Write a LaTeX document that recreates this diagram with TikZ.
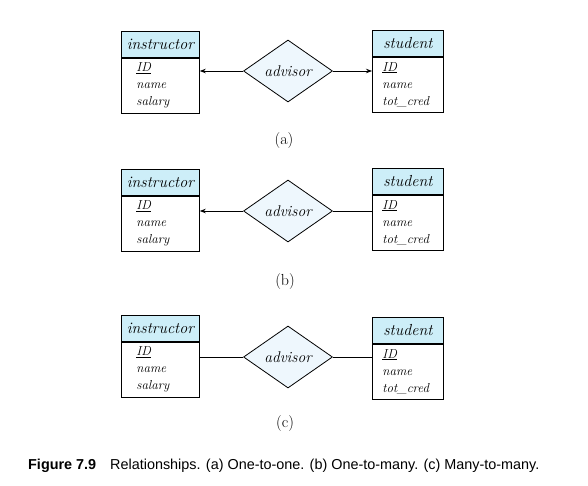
\documentclass[tikz,border=0pt]{standalone}
\usepackage{fontspec}
\newfontfamily\capfont{Liberation Sans}
\usetikzlibrary{shapes.geometric,arrows.meta}
\definecolor{headblue}{HTML}{CDEEF8}
\definecolor{relblue}{HTML}{EEF7FD}
\tikzset{
  enthead/.style={draw, fill=headblue, line width=0.8pt, minimum height=26pt, inner sep=0pt, anchor=north west, font=\fontsize{16}{18}\selectfont\itshape},
  entbody/.style={draw, line width=0.8pt, minimum height=55pt, inner ysep=0pt, anchor=north west, align=left, font=\fontsize{13}{17}\selectfont\itshape},
  insbody/.style={entbody, inner xsep=15pt, text width=48pt},
  stubody/.style={entbody, inner xsep=10pt, text width=51pt},
  rel/.style={diamond, draw, fill=relblue, line width=0.8pt, inner sep=0pt, minimum width=89pt, minimum height=62pt, font=\fontsize{15.5}{18}\selectfont\itshape},
  link/.style={line width=0.8pt},
  tip/.style={link, -{Stealth[length=6pt,width=4.5pt]}},
  sub/.style={font=\fontsize{16}{18}\selectfont}
}
\begin{document}
\begin{tikzpicture}[x=1pt,y=-1pt]
\useasboundingbox (0,0) rectangle (588,485);
% (a) one-to-one
\node[enthead, minimum width=78pt] (ins-a) at (121,31) {instructor};
\node[insbody] (ins-a-body) at (ins-a.south west) {\underline{ID}\\name\\salary};
\node[enthead, minimum width=71pt] (stu-a) at (372,30) {student};
\node[stubody] (stu-a-body) at (stu-a.south west) {\underline{ID}\\name\\tot\_cred};
\node[rel] (adv-a) at (288,71) {advisor};
\draw[tip] (adv-a.west) -- (ins-a-body.east |- adv-a.west);
\draw[tip] (adv-a.east) -- (stu-a-body.west |- adv-a.east);
\node[sub] (lbl-a) at (284,141) {(a)};
% (b) one-to-many
\node[enthead, minimum width=78pt] (ins-b) at (121,169) {instructor};
\node[insbody] (ins-b-body) at (ins-b.south west) {\underline{ID}\\name\\salary};
\node[enthead, minimum width=71pt] (stu-b) at (372,168) {student};
\node[stubody] (stu-b-body) at (stu-b.south west) {\underline{ID}\\name\\tot\_cred};
\node[rel] (adv-b) at (288,211) {advisor};
\draw[tip] (adv-b.west) -- (ins-b-body.east |- adv-b.west);
\draw[link] (adv-b.east) -- (stu-b-body.west |- adv-b.east);
\node[sub] (lbl-b) at (285,282) {(b)};
% (c) many-to-many
\node[enthead, minimum width=78pt] (ins-c) at (121,315) {instructor};
\node[insbody] (ins-c-body) at (ins-c.south west) {\underline{ID}\\name\\salary};
\node[enthead, minimum width=71pt] (stu-c) at (372,317) {student};
\node[stubody] (stu-c-body) at (stu-c.south west) {\underline{ID}\\name\\tot\_cred};
\node[rel] (adv-c) at (288,357) {advisor};
\draw[link] (adv-c.west) -- (ins-c-body.east |- adv-c.west);
\draw[link] (adv-c.east) -- (stu-c-body.west |- adv-c.east);
\node[sub] (lbl-c) at (285,423) {(c)};
% caption
\node[anchor=west, inner sep=0pt, font=\capfont\fontsize{14.4}{17}\selectfont] (caption) at (28,466)
  {\textbf{Figure 7.9}\hspace{14pt}Relationships. (a) One-to-one. (b) One-to-many. (c) Many-to-many.};
\end{tikzpicture}
\end{document}
